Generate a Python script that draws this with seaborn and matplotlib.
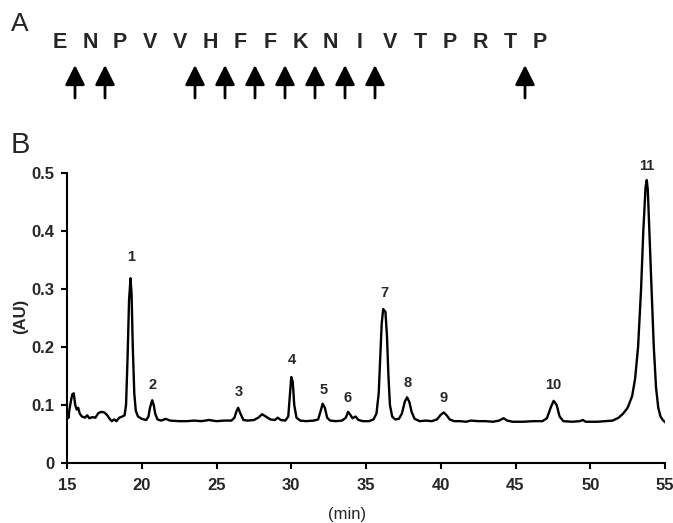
"""Chromatogram of peptide fragments with cleavage sites marked on the sequence"""
import matplotlib
matplotlib.use('Agg')
import matplotlib.pyplot as plt
import seaborn as sns

# Panel A: peptide sequence and the cleavage sites (after residue index)
sequence = ['E', 'N', 'P', 'V', 'V', 'H', 'F', 'F', 'K', 'N', 'I', 'V', 'T', 'P', 'R', 'T', 'P']
cleavage_after = [0, 1, 4, 5, 6, 7, 8, 9, 10, 15]

# Panel B: trace (time in min, absorbance in AU)
time_min = [
    15.0, 15.05, 15.1, 15.15, 15.25, 15.35, 15.45, 15.55, 15.65, 15.75, 15.85, 16.0,
    16.2, 16.35, 16.5, 16.7, 16.9, 17.1, 17.3, 17.5, 17.7, 17.85, 18.0, 18.15, 18.3,
    18.5, 18.7, 18.85, 18.95, 19.05, 19.15, 19.25, 19.32, 19.4, 19.5, 19.6, 19.75,
    20.0, 20.3, 20.45, 20.55, 20.7, 20.8, 20.9, 21.05, 21.3, 21.6, 21.9, 22.5, 23.0,
    23.5, 24.0, 24.5, 25.0, 25.5, 26.0, 26.2, 26.35, 26.45, 26.6, 26.8, 27.1, 27.5,
    27.8, 28.05, 28.3, 28.6, 28.9, 29.1, 29.3, 29.6, 29.8, 29.9, 30.0, 30.1, 30.2,
    30.35, 30.6, 31.0, 31.5, 31.8, 31.95, 32.1, 32.25, 32.4, 32.6, 33.0, 33.4, 33.65,
    33.8, 33.95, 34.1, 34.3, 34.5, 34.8, 35.2, 35.5, 35.7, 35.85, 35.95, 36.05, 36.15,
    36.3, 36.4, 36.5, 36.6, 36.75, 36.95, 37.2, 37.4, 37.6, 37.75, 37.9, 38.05, 38.25,
    38.6, 39.0, 39.4, 39.75, 40.0, 40.2, 40.4, 40.6, 40.9, 41.3, 41.7, 42.0, 42.5,
    43.0, 43.5, 43.9, 44.2, 44.45, 44.8, 45.5, 46.2, 46.8, 47.1, 47.35, 47.55, 47.75,
    47.95, 48.2, 48.8, 49.3, 49.5, 49.7, 50.5, 51.0, 51.5, 51.9, 52.2, 52.5, 52.8,
    53.0, 53.2, 53.4, 53.55, 53.7, 53.78, 53.85, 53.95, 54.1, 54.25, 54.4, 54.55,
    54.7, 54.85, 55.1,
]
absorbance = [
    0.075, 0.085, 0.078, 0.090, 0.105, 0.118, 0.120, 0.100, 0.092, 0.095, 0.085, 0.080,
    0.078, 0.082, 0.077, 0.079, 0.078, 0.086, 0.088, 0.087, 0.082, 0.076, 0.072, 0.075, 0.072,
    0.078, 0.080, 0.082, 0.100, 0.180, 0.280, 0.318, 0.290, 0.200, 0.120, 0.090, 0.080,
    0.076, 0.074, 0.080, 0.095, 0.108, 0.100, 0.085, 0.075, 0.073, 0.076, 0.073, 0.072, 0.072,
    0.073, 0.072, 0.074, 0.072, 0.073, 0.073, 0.078, 0.090, 0.095, 0.085, 0.074, 0.073, 0.074,
    0.078, 0.084, 0.080, 0.075, 0.074, 0.078, 0.074, 0.073, 0.080, 0.115, 0.148, 0.140, 0.100,
    0.078, 0.073, 0.072, 0.073, 0.075, 0.088, 0.102, 0.095, 0.078, 0.073, 0.072, 0.073, 0.078,
    0.088, 0.083, 0.077, 0.080, 0.074, 0.072, 0.072, 0.075, 0.085, 0.120, 0.180, 0.240, 0.265,
    0.260, 0.220, 0.150, 0.100, 0.080, 0.075, 0.076, 0.085, 0.106, 0.113, 0.105, 0.088, 0.076,
    0.072, 0.073, 0.072, 0.075, 0.083, 0.087, 0.082, 0.075, 0.072, 0.072, 0.071, 0.073, 0.072,
    0.072, 0.071, 0.073, 0.077, 0.073, 0.071, 0.071, 0.072, 0.072, 0.077, 0.095, 0.107, 0.100,
    0.080, 0.072, 0.071, 0.072, 0.074, 0.071, 0.071, 0.072, 0.073, 0.078, 0.085, 0.095, 0.115,
    0.145, 0.200, 0.300, 0.400, 0.475, 0.487, 0.470, 0.400, 0.300, 0.200, 0.130, 0.095,
    0.080, 0.074, 0.068,
]

# Peak numbers and where their labels sit
peak_labels = ['1', '2', '3', '4', '5', '6', '7', '8', '9', '10', '11']
peak_label_x = [19.3, 20.75, 26.5, 30.05, 32.2, 33.8, 36.2, 37.8, 40.2, 47.55, 53.75]
peak_label_y = [0.355, 0.134, 0.122, 0.177, 0.126, 0.112, 0.293, 0.138, 0.112, 0.134, 0.511]

x_ticks = [15, 20, 25, 30, 35, 40, 45, 50, 55]
y_ticks = [0, 0.1, 0.2, 0.3, 0.4, 0.5]
y_tick_labels = ['0', '0.1', '0.2', '0.3', '0.4', '0.5']

sns.set_style('ticks')
plt.rcParams['font.family'] = ['Liberation Sans', 'DejaVu Sans']

W, H = 673, 523
fig = plt.figure(figsize=(W / 100, H / 100), dpi=100)

# ---- panel A: sequence drawn in a pixel-like frame ----
ax_seq = fig.add_axes([0, 1 - 110 / H, 1, 110 / H])
ax_seq.set_xlim(-2, (W - 60) / 30)   # residue i sits at 60 + 30*i px
ax_seq.set_ylim(110, 0)
ax_seq.axis('off')
for i, res in enumerate(sequence):
    ax_seq.text(i, 43, res, ha='center', va='center', fontsize=15.5, fontweight='bold')
for i in cleavage_after:
    ax_seq.annotate('', xy=(i + 0.5, 65), xytext=(i + 0.5, 98),
                    arrowprops=dict(arrowstyle='-|>,head_length=0.4,head_width=0.2',
                                    mutation_scale=30, lw=2, color='black',
                                    shrinkA=0, shrinkB=0))
fig.text(11 / W, 1 - 24 / H, 'A', fontsize=19, ha='left', va='center')

# ---- panel B: chromatogram ----
ax = fig.add_axes([67 / W, 1 - 463 / H, 598 / W, 290.5 / H])
sns.lineplot(x=time_min, y=absorbance, ax=ax, color='black', linewidth=1.7, sort=False)
for lab, px, py in zip(peak_labels, peak_label_x, peak_label_y):
    ax.text(px, py, lab, ha='center', va='center', fontsize=10.5, fontweight='bold')

ax.set_xlim(15, 55)
ax.set_ylim(0, 0.5)
ax.set_xticks(x_ticks)
ax.set_yticks(y_ticks)
ax.set_yticklabels(y_tick_labels)
for lab in ax.get_xticklabels() + ax.get_yticklabels():
    lab.set_fontweight('bold')
ax.tick_params(axis='both', direction='out', length=4, width=1.5, labelsize=12, color='black')
ax.tick_params(axis='x', pad=7)
ax.tick_params(axis='y', pad=5)
sns.despine(ax=ax)
for side in ['left', 'bottom']:
    ax.spines[side].set_linewidth(1.5)
    ax.spines[side].set_color('black')

ax.set_xlabel('(min)', fontsize=12)
ax.set_ylabel('(AU)', fontsize=12, fontweight='bold')
ax.xaxis.set_label_coords(0.468, -0.15)
ax.yaxis.set_label_coords(-0.065, 0.506)

fig.text(11 / W, 1 - 145 / H, 'B', fontsize=21, ha='left', va='center')

plt.savefig('out.png', dpi=100)
plt.close()
